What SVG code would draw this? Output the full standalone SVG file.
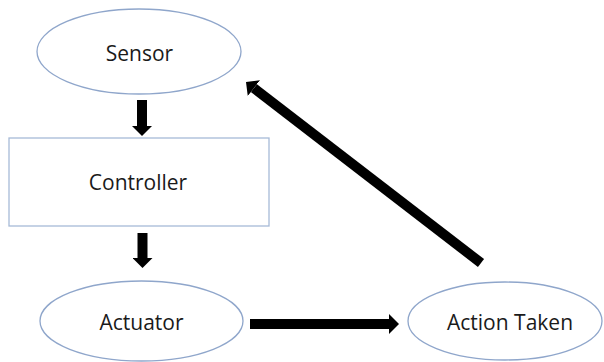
<svg xmlns="http://www.w3.org/2000/svg" width="604" height="362" viewBox="0 0 604 362">
<style>
.node{fill:#fff;stroke:#8FA6CB;stroke-width:1.3}
.box{fill:#fff;stroke:#A7BAD7;stroke-width:1.3}
.lbl{font-family:"Open Sans","Liberation Sans",sans-serif;font-size:21px;fill:#1a1a1a;text-anchor:middle}
.conn{stroke:#000;stroke-width:10;fill:none;marker-end:url(#head)}
</style>
<defs>
<marker id="head" viewBox="0 0 1 2" markerWidth="1" markerHeight="2" refX="0" refY="1" orient="auto" markerUnits="strokeWidth">
<path d="M0,0 L1,1 L0,2 z" fill="#000"/>
</marker>
</defs>
<rect width="604" height="362" fill="#fff"/>
<g id="sensor">
<ellipse class="node" cx="139" cy="51.5" rx="102" ry="42.5"/>
<text class="lbl" x="139.5" y="61">Sensor</text>
</g>
<g id="controller">
<rect class="box" x="9" y="138" width="260" height="88"/>
<text class="lbl" x="138" y="190">Controller</text>
</g>
<g id="actuator">
<ellipse class="node" cx="141.5" cy="321" rx="101.5" ry="40"/>
<text class="lbl" x="141.5" y="330">Actuator</text>
</g>
<g id="action-taken">
<ellipse class="node" cx="505" cy="321" rx="97" ry="39"/>
<text class="lbl" x="510" y="330">Action Taken</text>
</g>
<g id="connectors">
<line class="conn" x1="142" y1="100" x2="142" y2="126"/>
<line class="conn" x1="142.5" y1="233" x2="142.5" y2="258"/>
<line class="conn" x1="250" y1="324" x2="389" y2="324"/>
<line class="conn" x1="481" y1="263" x2="253.9" y2="88.1"/>
</g>
</svg>
